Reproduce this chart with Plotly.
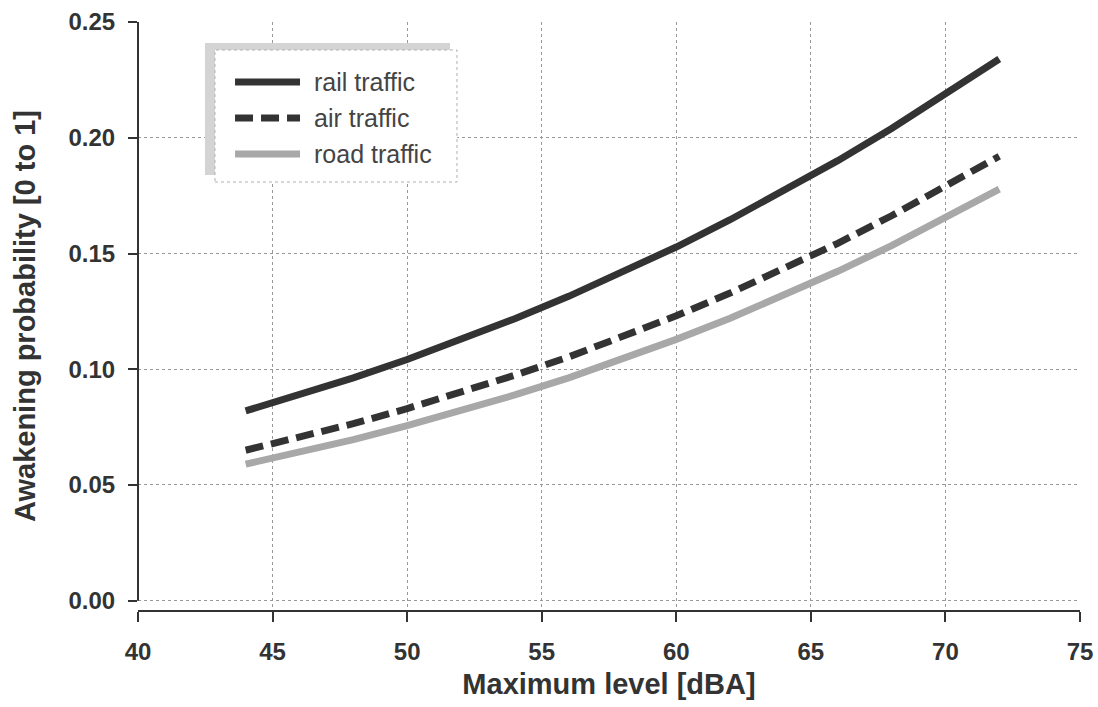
import plotly.graph_objects as go

levels = [44, 46, 48, 50, 52, 54, 56, 58, 60, 62, 64, 66, 68, 70, 72]
rail = [0.0820, 0.0889, 0.0963, 0.1042, 0.1127, 0.1218, 0.1315, 0.1418, 0.1528,
        0.1646, 0.1770, 0.1901, 0.2040, 0.2186, 0.2340]
air = [0.0650, 0.0706, 0.0765, 0.0830, 0.0899, 0.0974, 0.1053, 0.1139, 0.1231,
       0.1329, 0.1433, 0.1544, 0.1663, 0.1788, 0.1920]
road = [0.0590, 0.0641, 0.0696, 0.0756, 0.0820, 0.0889, 0.0963, 0.1043, 0.1129,
        0.1220, 0.1318, 0.1423, 0.1534, 0.1652, 0.1778]
series_names = ["rail traffic", "air traffic", "road traffic"]
x_ticks = [40, 45, 50, 55, 60, 65, 70, 75]
y_ticks = [0.00, 0.05, 0.10, 0.15, 0.20, 0.25]

FONT = "Liberation Sans, Arial, sans-serif"
DARK = "#333333"
ROAD = "#a8a8a8"
DASH = "18px,8px"

styles = [
    dict(color=DARK, width=7),
    dict(color=DARK, width=7, dash=DASH),
    dict(color=ROAD, width=7),
]

fig = go.Figure()
for name, ys, st in zip(series_names, [rail, air, road], styles):
    fig.add_trace(go.Scatter(x=levels, y=ys, name=name, mode="lines",
                             line=st, showlegend=False))

# Manual legend (box with offset shadow, long line samples)
shapes = [
    dict(type="rect", xref="paper", yref="paper", x0=0.0711, x1=0.3312,
         y0=0.7398, y1=0.9643, fillcolor="#d4d4d4", line=dict(width=0)),
    dict(type="rect", xref="paper", yref="paper", x0=0.0817, x1=0.3386,
         y0=0.7279, y1=0.9524, fillcolor="white",
         line=dict(color="#b0b0b0", width=1, dash="dot")),
    # y axis line limited to the data range
    dict(type="line", xref="paper", yref="y", x0=0, x1=0, y0=0, y1=0.25,
         line=dict(color=DARK, width=2)),
]
row_y = [0.8980, 0.8367, 0.7755]
annotations = []
for name, ry, st in zip(series_names, row_y, styles):
    shapes.append(dict(type="line", xref="paper", yref="paper",
                       x0=0.1030, x1=0.1720, y0=ry, y1=ry, line=st))
    annotations.append(dict(xref="paper", yref="paper", x=0.1847, y=ry,
                            xanchor="left", yanchor="middle", showarrow=False,
                            text=name, font=dict(size=25, color="#444444", family=FONT)))

fig.update_layout(
    width=1098, height=707,
    margin=dict(l=138, r=18, t=22, b=97),
    paper_bgcolor="white", plot_bgcolor="white",
    font=dict(family=FONT, color=DARK),
    showlegend=False,
    shapes=shapes,
    annotations=annotations,
    xaxis=dict(range=[40, 75], tickvals=x_ticks, ticktext=[str(v) for v in x_ticks],
               automargin=False,
               showgrid=True, gridcolor="#999999", griddash="dot", gridwidth=1,
               showline=True, linecolor=DARK, linewidth=2,
               ticks="outside", ticklen=10, tickwidth=2, tickcolor=DARK,
               ticklabelstandoff=9,
               tickfont=dict(size=24, family=FONT, weight="bold", color=DARK),
               zeroline=False,
               title=dict(text="Maximum level [dBA]", standoff=10,
                          font=dict(size=29, family=FONT, weight="bold", color=DARK))),
    yaxis=dict(range=[-0.0040, 0.25], tickvals=y_ticks,
               ticktext=["%.2f" % v for v in y_ticks],
               automargin=False,
               showgrid=True, gridcolor="#999999", griddash="dot", gridwidth=1,
               showline=False,
               ticks="outside", ticklen=9, tickwidth=2, tickcolor=DARK,
               ticklabelstandoff=8,
               tickfont=dict(size=24, family=FONT, weight="bold", color=DARK),
               zeroline=False,
               title=dict(text="Awakening probability [0 to 1]", standoff=24,
                          font=dict(size=29, family=FONT, weight="bold", color=DARK))),
)

fig.write_html("out.html",
               config={"displayModeBar": False},
               post_script="document.body.style.margin='0';document.body.style.overflow='hidden';")
